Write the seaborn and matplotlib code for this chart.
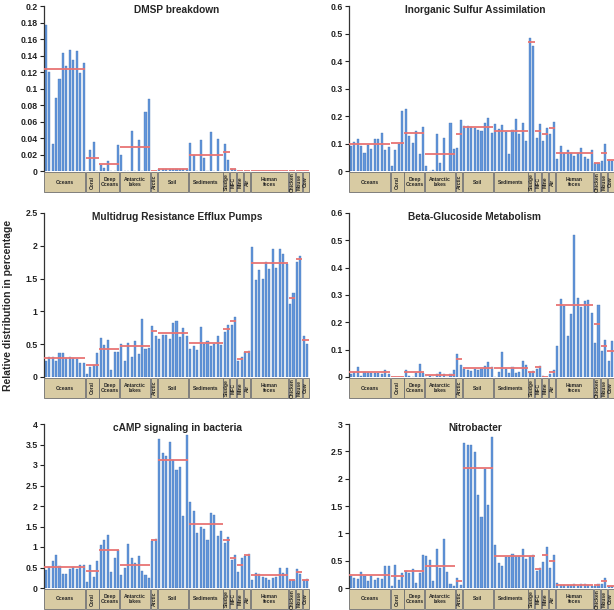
import numpy as np
import pandas as pd
import matplotlib
matplotlib.use("Agg")
import matplotlib.pyplot as plt
import matplotlib.transforms as mtrans
from matplotlib.patches import Rectangle
from matplotlib.ticker import FuncFormatter, MultipleLocator
import seaborn as sns

# ---------------- data ----------------
groups = ["Oceans", "Coral", "Deep\nOceans", "Antarctic\nlakes", "Arctic", "Soil",
          "Sediments", "Sludge", "MFC", "Mine", "Air", "Human\nfeces",
          "Chicken", "Mouse", "Cow"]
counts = [12, 4, 6, 9, 2, 9, 10, 2, 2, 2, 2, 11, 2, 2, 2]
vertical = ["Coral", "Arctic", "Sludge", "MFC", "Mine", "Air", "Chicken", "Mouse", "Cow"]

dmsp = [0.177, 0.120, 0.033, 0.088, 0.112, 0.143, 0.127, 0.147, 0.135, 0.146, 0.119, 0.131,
        0.0, 0.026, 0.035, 0.0,
        0.007, 0.004, 0.012, 0.0, 0.0, 0.031,
        0.020, 0.0, 0.0, 0.048, 0.0, 0.037, 0.0, 0.071, 0.087,
        0.0005, 0.0005,
        0.003, 0.003, 0.003, 0.003, 0.003, 0.003, 0.003, 0.003, 0.003,
        0.034, 0.020, 0.0, 0.037, 0.016, 0.0, 0.047, 0.0, 0.039, 0.0,
        0.033, 0.013,
        0.002, 0.002,
        0.0005, 0.0005,
        0.0005, 0.0005,
        0.0005, 0.0005, 0.0005, 0.0005, 0.0005, 0.0005, 0.0005, 0.0005, 0.0005, 0.0005, 0.0005,
        0.0005, 0.0005,
        0.0005, 0.0005,
        0.0005, 0.0005]

sulfur = [0.090, 0.105, 0.115, 0.090, 0.065, 0.095, 0.080, 0.115, 0.118, 0.140, 0.077, 0.087,
          0.020, 0.078, 0.097, 0.218,
          0.226, 0.128, 0.102, 0.146, 0.063, 0.160,
          0.020, 0.0, 0.005, 0.136, 0.030, 0.120, 0.0, 0.173, 0.080,
          0.085, 0.187,
          0.165, 0.162, 0.160, 0.155, 0.150, 0.147, 0.175, 0.193, 0.140,
          0.170, 0.152, 0.166, 0.142, 0.063, 0.150, 0.190, 0.135, 0.173, 0.110,
          0.483, 0.455,
          0.120, 0.170,
          0.110, 0.158,
          0.135, 0.180,
          0.045, 0.092, 0.065, 0.078, 0.065, 0.055, 0.065, 0.082, 0.050, 0.045, 0.078,
          0.030, 0.030,
          0.037, 0.097,
          0.040, 0.038]

multidrug = [0.25, 0.30, 0.31, 0.24, 0.37, 0.37, 0.29, 0.31, 0.29, 0.27, 0.22, 0.21,
             0.04, 0.16, 0.18, 0.36,
             0.60, 0.49, 0.57, 0.10, 0.38, 0.38,
             0.50, 0.25, 0.52, 0.30, 0.55, 0.35, 0.89, 0.42, 0.44,
             0.77, 0.63,
             0.58, 0.64, 0.64, 0.58, 0.82, 0.85, 0.61, 0.74, 0.62,
             0.43, 0.48, 0.41, 0.76, 0.51, 0.55, 0.47, 0.51, 0.63, 0.49,
             0.68, 0.79,
             0.79, 0.92,
             0.24, 0.30,
             0.38, 0.39,
             1.98, 1.48, 1.63, 1.50, 1.75, 1.64, 1.95, 1.66, 1.95, 1.87, 1.72,
             1.12, 1.28,
             1.75, 1.84,
             0.62, 0.50]

betaglu = [0.012, 0.020, 0.036, 0.005, 0.020, 0.020, 0.013, 0.013, 0.015, 0.010, 0.025, 0.010,
           0.0005, 0.0005, 0.0005, 0.0005,
           0.026, 0.005, 0.0, 0.015, 0.046, 0.015,
           0.0, 0.005, 0.0, 0.010, 0.018, 0.010, 0.0, 0.010, 0.027,
           0.085, 0.045,
           0.030, 0.025, 0.022, 0.030, 0.025, 0.030, 0.040, 0.055, 0.035,
           0.0, 0.018, 0.093, 0.030, 0.015, 0.035, 0.015, 0.020, 0.057, 0.045,
           0.018, 0.022,
           0.030, 0.042,
           0.002, 0.001,
           0.010, 0.025,
           0.113, 0.287, 0.260, 0.150, 0.232, 0.520, 0.290, 0.255, 0.278, 0.280, 0.233,
           0.125, 0.265,
           0.095, 0.135,
           0.060, 0.130]

camp = [0.43, 0.52, 0.66, 0.80, 0.53, 0.34, 0.33, 0.47, 0.51, 0.47, 0.55, 0.55,
        0.15, 0.57, 0.28, 0.65,
        1.05, 1.17, 1.30, 0.40, 0.73, 0.93,
        0.32, 0.50, 1.08, 0.73, 0.62, 0.79, 0.42, 0.32, 0.25,
        1.15, 1.20,
        3.63, 3.30, 3.22, 3.57, 3.12, 2.87, 2.96, 1.76, 3.73,
        2.10, 1.88, 1.33, 1.48, 1.43, 1.17, 1.84, 1.78, 1.27, 1.38,
        1.10, 1.25,
        0.68, 0.80,
        0.38, 0.73,
        0.78, 0.84,
        0.20, 0.37, 0.33, 0.28, 0.25, 0.20, 0.25, 0.26, 0.50, 0.36, 0.48,
        0.20, 0.20,
        0.46, 0.33,
        0.20, 0.21]

nitro = [0.22, 0.19, 0.17, 0.30, 0.22, 0.13, 0.22, 0.14, 0.19, 0.17, 0.40, 0.41,
         0.04, 0.42, 0.15, 0.27,
         0.31, 0.27, 0.34, 0.09, 0.27, 0.60,
         0.58, 0.52, 0.13, 0.71, 0.37, 0.90, 0.29, 0.07, 0.03,
         0.19, 0.05,
         2.66, 2.62, 2.62, 2.48, 1.70, 1.30, 2.17, 1.51, 2.77,
         0.78, 0.46, 0.40, 0.57, 0.57, 0.62, 0.58, 0.58, 0.71, 0.53,
         0.58, 0.60,
         0.32, 0.37,
         0.47, 0.75,
         0.37, 0.61,
         0.10, 0.06, 0.06, 0.06, 0.06, 0.07, 0.03, 0.07, 0.07, 0.06, 0.03,
         0.03, 0.07,
         0.08, 0.19,
         0.04, 0.03]

titles = ["DMSP breakdown", "Inorganic Sulfur Assimilation",
          "Multidrug Resistance Efflux Pumps", "Beta-Glucoside Metabolism",
          "cAMP signaling in bacteria", "Nitrobacter"]
series = [dmsp, sulfur, multidrug, betaglu, camp, nitro]
ymaxs = [0.2, 0.6, 2.5, 0.6, 4, 3]
steps = [0.02, 0.1, 0.5, 0.1, 0.5, 0.5]

# ---------------- style ----------------
sns.set_style("ticks")
plt.rcParams["font.family"] = ["Liberation Sans", "DejaVu Sans"]
plt.rcParams["font.weight"] = "bold"

BAR = "#6396da"
RED = "#e87474"
BOX = "#d8cba3"
BOXEDGE = "#6e6e6e"

W, H = 614, 610
fig = plt.figure(figsize=(W / 100, H / 100), dpi=100)

lefts = [44, 349]
rows = [(6, 171), (213, 377), (424, 588)]
axw = 265

n = sum(counts)
for k, (title, data, ymax, step) in enumerate(zip(titles, series, ymaxs, steps)):
    r, c = divmod(k, 2)
    top, zero = rows[r]
    ax = fig.add_axes([lefts[c] / W, 1 - zero / H, axw / W, (zero - top) / H])
    df = pd.DataFrame({"sample": np.arange(n), "value": data})
    sns.barplot(data=df, x="sample", y="value", ax=ax, color=BAR, saturation=1,
                width=0.6, errorbar=None, edgecolor="#3f6fb3", linewidth=0.25)
    ax.set_xlim(-0.5, n - 0.5)
    ax.set_ylim(0, ymax)
    ax.yaxis.set_major_locator(MultipleLocator(step))
    ax.yaxis.set_major_formatter(FuncFormatter(lambda v, p: f"{v:g}"))
    ax.tick_params(axis="y", labelsize=6.3, length=3, width=0.8, pad=1.5, colors="#222222")
    ax.set_xticks([])
    ax.set_xlabel("")
    ax.set_ylabel("")
    for s in ["top", "right", "bottom"]:
        ax.spines[s].set_visible(False)
    ax.spines["left"].set_linewidth(0.9)
    ax.spines["left"].set_color("#333333")

    tx = 0.502 if c == 0 else 0.475
    ax.text(tx, 1.005, title, transform=ax.transAxes, ha="center", va="top",
            fontsize=7.3, fontweight="bold")

    trans = mtrans.blended_transform_factory(ax.transData, ax.transAxes)
    hfrac = 20 / (zero - top)
    gap = 1 / (zero - top)
    start = 0
    for g, cnt in zip(groups, counts):
        m = float(np.mean(data[start:start + cnt]))
        ax.hlines(m, start - 0.4, start + cnt - 0.6, color=RED, lw=1.3, zorder=5)
        ax.add_patch(Rectangle((start - 0.5 + 0.12, -gap - hfrac), cnt - 0.24, hfrac,
                               transform=trans, clip_on=False, facecolor=BOX,
                               edgecolor=BOXEDGE, lw=0.6))
        rot = 90 if g in vertical else 0
        ax.text(start + cnt / 2 - 0.5, -gap - hfrac / 2, g, transform=trans,
                ha="center", va="center", fontsize=3.6, rotation=rot,
                linespacing=0.95, clip_on=False)
        start += cnt

fig.text(8 / W, 0.5, "Relative distribution in percentage", rotation=90,
         ha="center", va="center", fontsize=7.5, fontweight="bold")

fig.savefig("out.png", dpi=100)
